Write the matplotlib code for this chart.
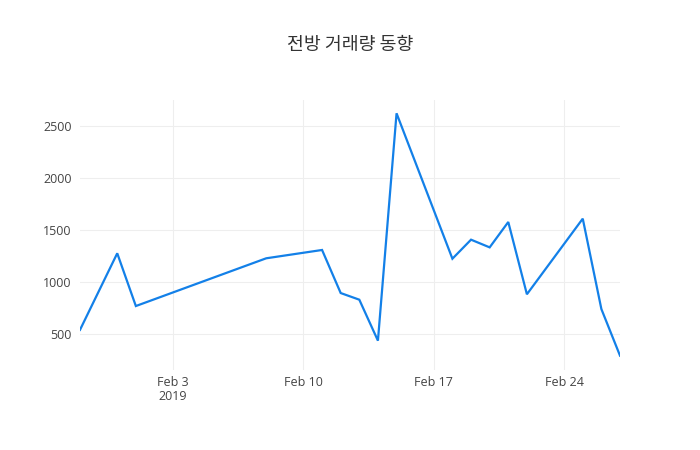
import matplotlib
matplotlib.use("Agg")
import matplotlib.pyplot as plt
import matplotlib.dates as mdates
import pandas as pd

dates = ["2019-01-29", "2019-01-31", "2019-02-01", "2019-02-08", "2019-02-11",
         "2019-02-12", "2019-02-13", "2019-02-14", "2019-02-15", "2019-02-18",
         "2019-02-19", "2019-02-20", "2019-02-21", "2019-02-22", "2019-02-25",
         "2019-02-26", "2019-02-27"]
volume = [540, 1276, 769, 1228, 1308, 894, 830, 436, 2622, 1224,
          1407, 1333, 1577, 882, 1609, 740, 292]
title = "전방 거래량 동향"
y_ticks = [500, 1000, 1500, 2000, 2500]
x_ticks = ["2019-02-03", "2019-02-10", "2019-02-17", "2019-02-24"]
x_tick_labels = ["Feb 3\n2019", "Feb 10", "Feb 17", "Feb 24"]

x = pd.to_datetime(dates)

fig = plt.figure(figsize=(7, 4.5), dpi=100)
ax = fig.add_axes([80 / 700, 80 / 450, 540 / 700, 270 / 450])
ax.plot(x, volume, color="#1380e8", linewidth=1.6, solid_joinstyle="miter")

ax.set_xlim(x[0], x[-1])
ax.set_ylim(154, 2750)
ax.set_yticks(y_ticks)
ax.set_yticklabels([str(v) for v in y_ticks], fontfamily="Open Sans", fontsize=9, color="#444444")
ax.set_xticks(pd.to_datetime(x_ticks))
ax.set_xticklabels(x_tick_labels, fontfamily="Open Sans", fontsize=9, color="#444444",
                   linespacing=1.15)
ax.tick_params(axis="x", length=0, pad=4)
ax.tick_params(axis="y", length=0, pad=6)
ax.grid(True, color="#eeeeee", linewidth=0.8)
ax.set_axisbelow(True)
for s in ax.spines.values():
    s.set_visible(False)

fig.text(0.5, 1 - 45 / 450, title, ha="center", va="center",
         fontfamily=["Noto Sans CJK KR", "DejaVu Sans"], fontsize=13.2, color="#333333")

fig.savefig("out.png", dpi=100)
